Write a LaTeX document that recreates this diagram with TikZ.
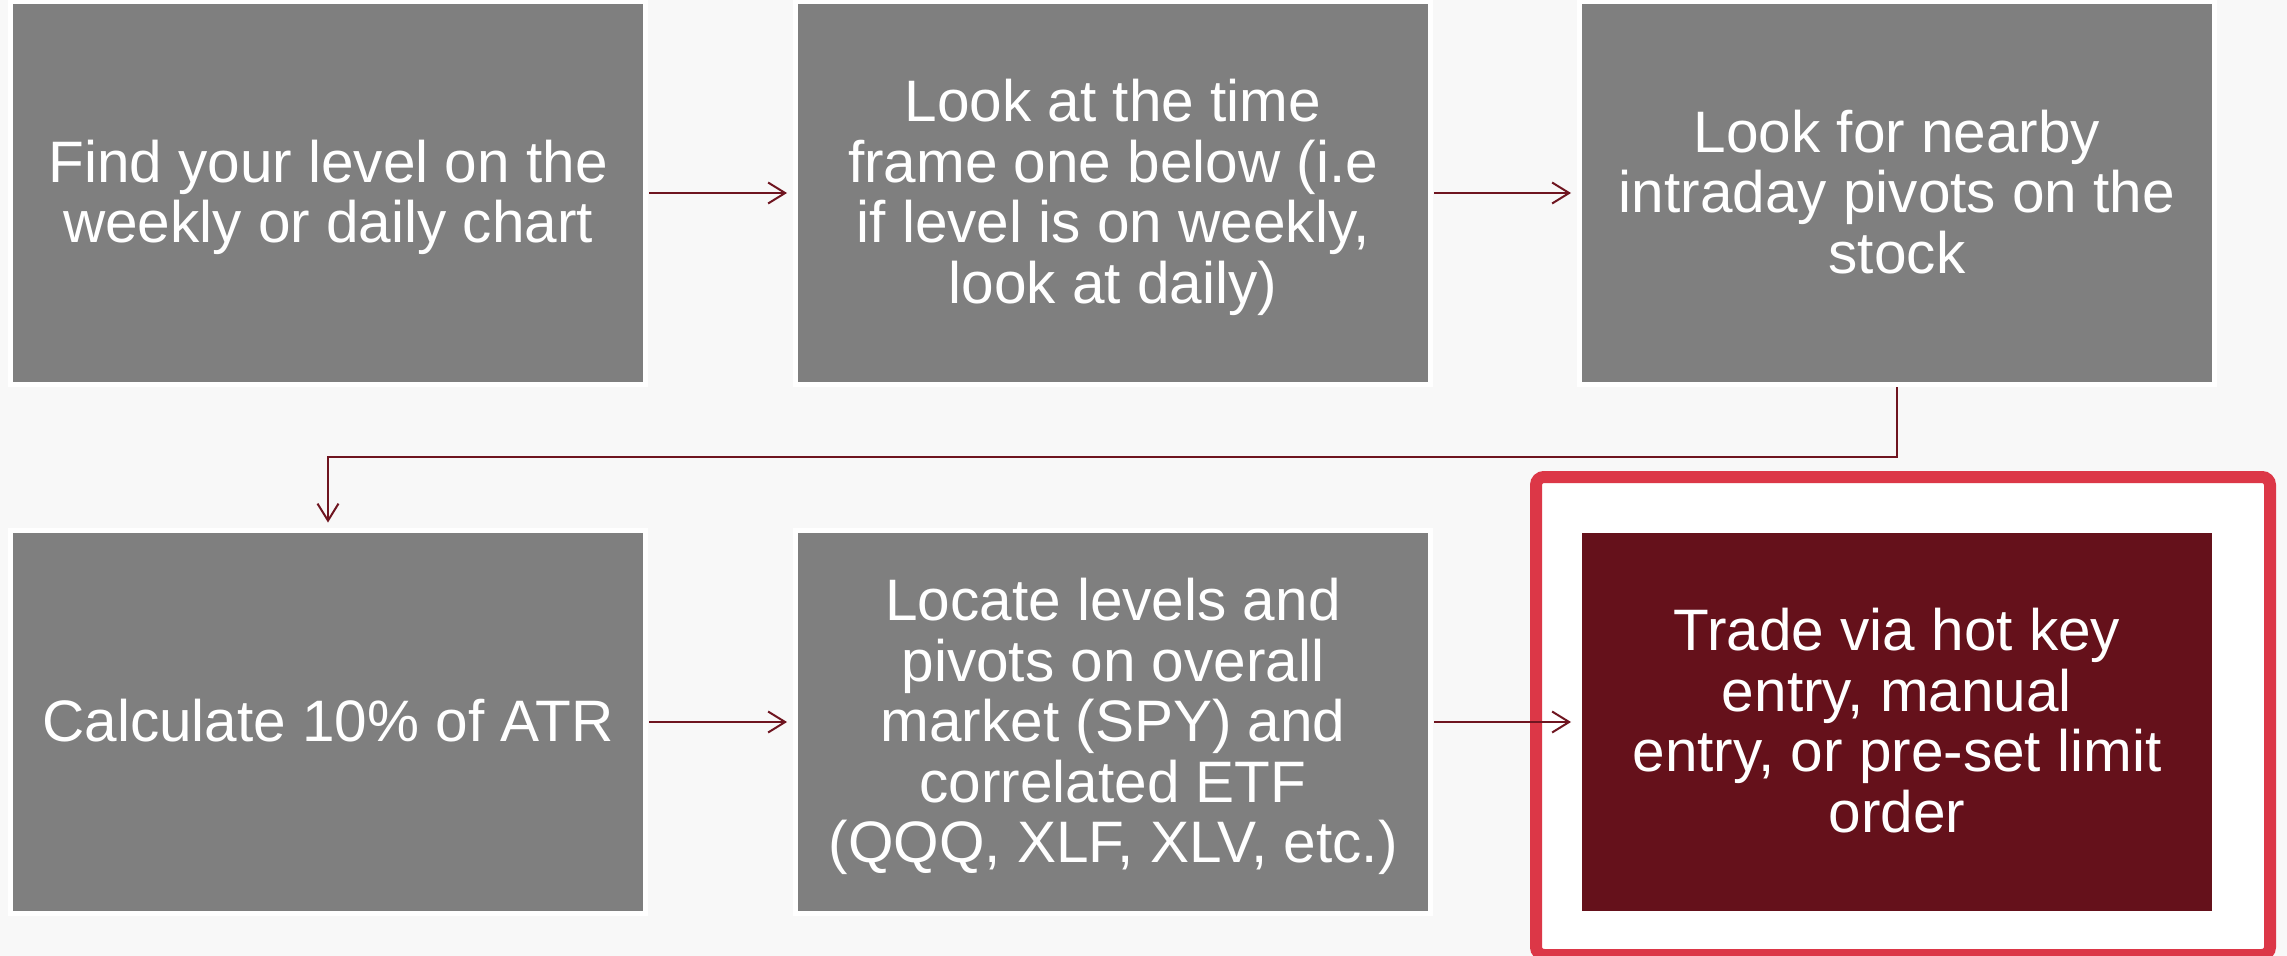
\documentclass[tikz,border=0pt]{standalone}
\usepackage{fontspec}
\setmainfont{Liberation Sans}
\usetikzlibrary{arrows.meta}
\definecolor{bg}{HTML}{F8F8F8}
\definecolor{boxgray}{HTML}{7F7F7F}
\definecolor{darkred}{HTML}{65111B}
\definecolor{hilite}{HTML}{DC3747}
\definecolor{arrowred}{HTML}{6F1520}
\begin{document}
\begin{tikzpicture}[x=1pt,y=-1pt,
  stepbox/.style={draw=white, line width=5pt, fill=boxgray, minimum width=635pt,
    minimum height=383pt, inner sep=0pt, outer sep=0pt, text=white, align=center,
    font=\fontsize{58.5}{60.5}\selectfont, anchor=north west, text depth=3pt},
  finalbox/.style={stepbox, fill=darkred},
  conn/.style={draw=arrowred, line width=2pt, -{Straight Barb[length=17pt,width=21pt]},
    shorten <=3.5pt, shorten >=8.5pt}
]
\useasboundingbox (0,0) rectangle (2287,956);
\fill[bg] (0,0) rectangle (2287,956);
% highlight frame
\draw[hilite, fill=white, line width=12pt, rounded corners=8pt] (1536,477) rectangle (2270,955);

\node[stepbox] (b1) at (10.5,1.5) {Find your level on the\\weekly or daily chart};
\node[stepbox] (b2) at (795.5,1.5) {Look at the time\\frame one below (i.e\\if level is on weekly,\\look at daily)};
\node[stepbox] (b3) at (1579.5,1.5) {Look for nearby\\intraday pivots on the\\stock};
\node[stepbox] (b4) at (10.5,530.5) {Calculate 10\% of ATR};
\node[stepbox] (b5) at (795.5,530.5) {Locate levels and\\pivots on overall\\market (SPY) and\\correlated ETF\\(QQQ, XLF, XLV, etc.)};
\node[finalbox] (b6) at (1579.5,530.5) {Trade via hot key\\entry, manual\\entry, or pre-set limit\\order};

\draw[conn] (b1.east) -- (b2.west);
\draw[conn] (b2.east) -- (b3.west);
\draw[conn] (b4.east) -- (b5.west);
\draw[conn] (b5.east) -- (b6.west);
\coordinate (turn) at (1897,457);
\draw[conn, shorten <=2.5pt, shorten >=8pt] (b3.south) -- (turn) -| (b4.north);
\end{tikzpicture}
\end{document}
